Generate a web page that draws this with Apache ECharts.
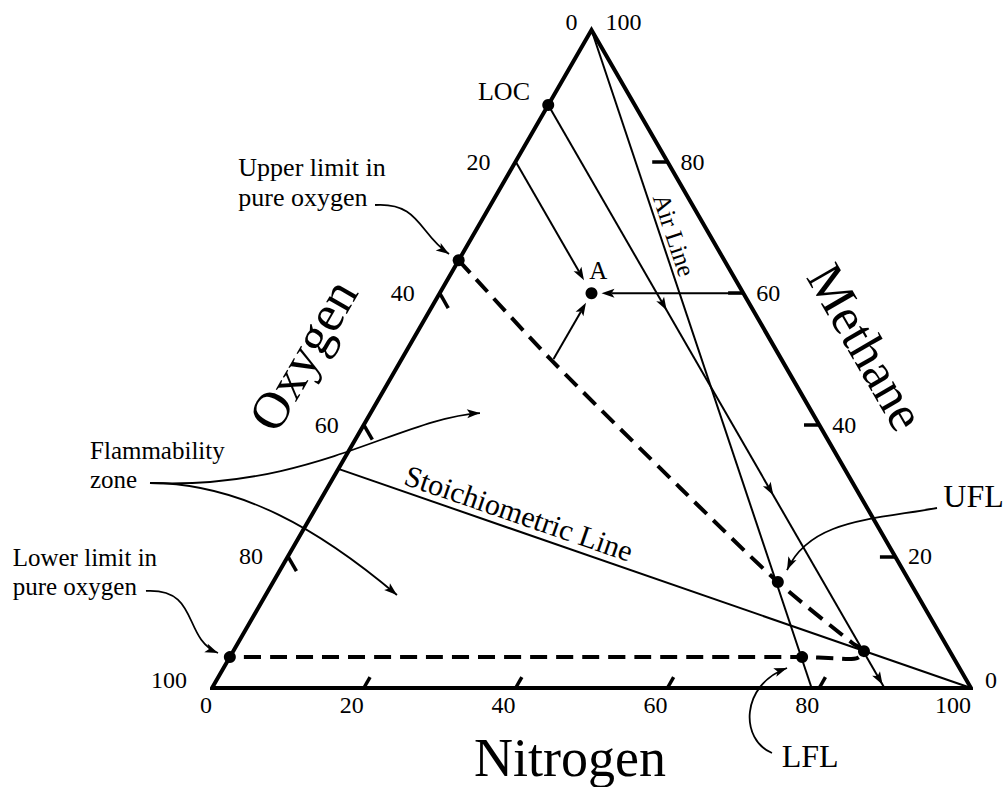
<!DOCTYPE html>
<html>
<head>
<meta charset="utf-8">
<title>Flammability diagram for methane</title>
<script src="https://cdn.jsdelivr.net/npm/echarts@6/dist/echarts.min.js"></script>
<style>
html,body{margin:0;padding:0;background:#fff;}
#chart{width:1005px;height:787px;}
</style>
</head>
<body>
<div id="chart"></div>
<script>
// ===== Data: compositions in % (N2 = nitrogen, CH4 = methane, O2 = 100 - N2 - CH4) =====
const tickValues = [20, 40, 60, 80];          // nitrogen and methane ticks
const oxygenTickValues = [40, 60, 80];        // oxygen ticks
const scaleValues = [0, 20, 40, 60, 80, 100];
const scaleLabels = ['0', '20', '40', '60', '80', '100'];

const locO2 = 11.4;        // limiting oxygen concentration (% O2)
const airN2 = 79;          // air: 79 % N2
const stoichCH4 = 33.3;    // stoichiometric CH4 in pure oxygen (%)

// flammability boundary (dashed)
const boundaryN2  = [0,    19.7, 46.5, 66.5, 81.0, 83.1, 82.8, 81.6, 79.8, 75.4, 0  ];
const boundaryCH4 = [65.0, 49.9, 30.4, 16.1, 6.8,  5.6,  4.6,  4.4,  4.5,  4.7,  4.7];

// dots: LOC, upper limit in O2, A, UFL, nose, LFL, lower limit in O2
const pointN2  = [0,    0,    20, 66.5, 83.1, 75.4, 0  ];
const pointCH4 = [88.6, 65.0, 60, 16.1, 5.6,  4.7,  4.7];

// arrows pointing to A
const pointA = [20, 60];
const arrowFromN2  = [0,  40, 20];
const arrowFromCH4 = [80, 60, 50];

// arrow heads along the LOC line (CH4 %)
const locArrowCH4 = [57.4, 29.3, 0.5];

// ===== geometry helpers =====
const S = Math.sqrt(3) / 2;
const T = (n, c) => [n + c / 2, c * S];     // ternary (N2, CH4) -> cartesian
const FONT = '"Liberation Serif", "Times New Roman", serif';
const BLACK = '#000';
const HEAD = { len: 13, half: 4.5, notch: 3 };
const ARROW_GAPS = [15, 10, 11];

function unit(a, b) {
  const dx = b[0] - a[0], dy = b[1] - a[1];
  const L = Math.hypot(dx, dy) || 1;
  return [dx / L, dy / L];
}
function headPoints(tip, u) {
  const bx = tip[0] - u[0] * HEAD.len, by = tip[1] - u[1] * HEAD.len;
  const px = -u[1], py = u[0];
  return [
    [tip[0], tip[1]],
    [bx + px * HEAD.half, by + py * HEAD.half],
    [tip[0] - u[0] * (HEAD.len - HEAD.notch), tip[1] - u[1] * (HEAD.len - HEAD.notch)],
    [bx - px * HEAD.half, by - py * HEAD.half]
  ];
}

// ===== derived marks =====
const triangle = [T(0, 0), T(100, 0), T(0, 100), T(0, 0), T(100, 0)];

const tickSegs = [];
tickValues.forEach(v => tickSegs.push({ coords: [T(v, 0), T(v, 1.65)] }));                 // nitrogen
tickValues.forEach(v => tickSegs.push({ coords: [T(100 - v, v), T(98 - v, v)] }));         // methane
oxygenTickValues.forEach(v => tickSegs.push({ coords: [T(0, 100 - v), T(2.25, 97.75 - v)] })); // oxygen

const thinLines = [
  { coords: [T(0, 100), T(airN2, 0)] },                 // air line
  { coords: [T(0, 100 - locO2), T(100 - locO2, 0)] },    // LOC line
  { coords: [T(0, stoichCH4), T(100, 0)] }               // stoichiometric line
];

const boundary = boundaryN2.map((n, i) => T(n, boundaryCH4[i]));
const dots = pointN2.map((n, i) => T(n, pointCH4[i]));

const arrowsToA = arrowFromN2.map((n, i) => [...T(n, arrowFromCH4[i]), ...T(pointA[0], pointA[1])]);
const locHeads = locArrowCH4.map(c => [...T(100 - locO2 - c, c), ...T(0, 100 - locO2)]);

// tick labels
const labelItems = [];
scaleValues.forEach((v, i) => {
  const s = scaleLabels[i];
  const end = (v === 0 || v === 100);
  labelItems.push({ text: s, pos: T(v, 0), dx: 0, dy: 17, align: 'right', size: 24 });                    // nitrogen
  labelItems.push({ text: s, pos: T(100 - v, v), dx: end ? 14 : 13, dy: end ? -8 : 0, align: 'left', size: 24 }); // methane
  labelItems.push({ text: s, pos: T(0, 100 - v), dx: v === 0 ? -14 : -25, dy: end ? -8 : 0, align: 'right', size: 24 }); // oxygen
});

// annotation texts (layout positions in plot units)
const notes = [
  { text: 'LOC', pos: [38.47, 78.55], size: 26, align: 'center' },
  { text: 'Upper limit in', pos: [3.47, 68.44], size: 26, align: 'left' },
  { text: 'pure oxygen', pos: [3.47, 64.62], size: 26, align: 'left' },
  { text: 'Flammability', pos: [-16.07, 31.25], size: 25, align: 'left' },
  { text: 'zone', pos: [-16.07, 27.43], size: 25, align: 'left' },
  { text: 'Lower limit in', pos: [-26.26, 17.11], size: 25, align: 'left' },
  { text: 'pure oxygen', pos: [-26.26, 13.39], size: 25, align: 'left' },
  { text: 'UFL', pos: [96.35, 25.30], size: 32, align: 'left' },
  { text: 'LFL', pos: [75.06, -8.92], size: 32, align: 'left' },
  { text: 'A', pos: [50.90, 54.95], size: 25, align: 'center' },
  { text: 'Air Line', pos: [60.87, 59.62], size: 25, align: 'center', rot: -71.5 },
  { text: 'Stoichiometric Line', pos: [40.45, 23.03], size: 30, align: 'center', rot: -19 },
  { text: 'Oxygen', pos: [11.99, 43.83], size: 52, align: 'center', rot: 60 },
  { text: 'Methane', pos: [86.17, 44.88], size: 52, align: 'center', rot: -60 },
  { text: 'Nitrogen', pos: [47.17, -9.25], size: 54, align: 'center' }
];
notes.forEach(n => labelItems.push({ text: n.text, pos: n.pos, dx: 0, dy: 0, align: n.align, size: n.size, rot: n.rot || 0 }));

// curved leader arrows (cubic Bezier, plot units)
const curves = [
  [21.48, 63.57, 27.40, 63.96, 27.27, 59.75, 31.23, 57.12],
  [-8.17, 26.98, 12.91, 26.06, 24.77, 35.54, 35.31, 36.19],
  [-8.17, 26.98, 3.69, 26.98, 14.23, 20.80, 24.37, 12.24],
  [-8.70, 12.77, -1.58, 13.16, -3.95, 6.58, 0.79, 4.61],
  [95.52, 23.69, 86.69, 22.11, 78.79, 22.11, 75.76, 15.53],
  [73.78, -8.55, 69.57, -6.84, 69.57, 0.39, 75.76, 2.63]
];

const chart = echarts.init(document.getElementById('chart'), null, { renderer: 'svg' });

chart.setOption({
  animation: false,
  backgroundColor: '#fff',
  grid: { left: 212, right: 34, top: 30, bottom: 99 },
  xAxis: { type: 'value', min: 0, max: 100, show: false },
  yAxis: { type: 'value', min: 0, max: 100 * S, show: false },
  series: [
    {
      type: 'lines', coordinateSystem: 'cartesian2d', silent: true, z: 2,
      data: thinLines,
      lineStyle: { color: BLACK, width: 2, opacity: 1, curveness: 0 }
    },
    {
      type: 'line', silent: true, z: 3, clip: false, symbol: 'none',
      data: boundary, smooth: 0.25,
      lineStyle: { color: BLACK, width: 4, type: [17, 9] }
    },
    {
      type: 'line', silent: true, z: 4, clip: false, symbol: 'none',
      data: triangle,
      lineStyle: { color: BLACK, width: 4, join: 'miter', miterLimit: 10 }
    },
    {
      type: 'lines', coordinateSystem: 'cartesian2d', silent: true, z: 4,
      data: tickSegs,
      lineStyle: { color: BLACK, width: 3.5, opacity: 1, curveness: 0 }
    },
    {
      type: 'custom', coordinateSystem: 'cartesian2d', silent: true, z: 5,
      data: arrowsToA,
      renderItem(params, api) {
        const p0 = api.coord([api.value(0), api.value(1)]);
        const p1 = api.coord([api.value(2), api.value(3)]);
        const u = unit(p0, p1);
        const gap = ARROW_GAPS[params.dataIndex];
        const tip = [p1[0] - u[0] * gap, p1[1] - u[1] * gap];
        const se = [tip[0] - u[0] * (HEAD.len - HEAD.notch), tip[1] - u[1] * (HEAD.len - HEAD.notch)];
        return {
          type: 'group', children: [
            { type: 'line', shape: { x1: p0[0], y1: p0[1], x2: se[0], y2: se[1] }, style: { stroke: BLACK, lineWidth: 2 } },
            { type: 'polygon', shape: { points: headPoints(tip, u) }, style: { fill: BLACK } }
          ]
        };
      }
    },
    {
      type: 'custom', coordinateSystem: 'cartesian2d', silent: true, z: 5,
      data: locHeads,
      renderItem(params, api) {
        const tip = api.coord([api.value(0), api.value(1)]);
        const from = api.coord([api.value(2), api.value(3)]);
        const u = unit(from, tip);
        return { type: 'polygon', shape: { points: headPoints(tip, u) }, style: { fill: BLACK } };
      }
    },
    {
      type: 'custom', coordinateSystem: 'cartesian2d', silent: true, z: 6,
      data: curves,
      renderItem(params, api) {
        const p = [0, 1, 2, 3].map(k => api.coord([api.value(2 * k), api.value(2 * k + 1)]));
        const u = unit(p[2], p[3]);
        return {
          type: 'group', children: [
            {
              type: 'bezierCurve',
              shape: { x1: p[0][0], y1: p[0][1], cpx1: p[1][0], cpy1: p[1][1], cpx2: p[2][0], cpy2: p[2][1], x2: p[3][0], y2: p[3][1] },
              style: { stroke: BLACK, lineWidth: 1.8, fill: null }
            },
            { type: 'polygon', shape: { points: headPoints(p[3], u) }, style: { fill: BLACK } }
          ]
        };
      }
    },
    {
      type: 'scatter', silent: true, z: 8, clip: false,
      data: dots, symbol: 'circle', symbolSize: 12,
      itemStyle: { color: BLACK, opacity: 1 }
    },
    {
      type: 'custom', coordinateSystem: 'cartesian2d', silent: true, z: 9,
      data: labelItems.map(t => t.pos),
      renderItem(params, api) {
        const t = labelItems[params.dataIndex];
        const p = api.coord([api.value(0), api.value(1)]);
        return {
          type: 'text',
          x: p[0] + t.dx, y: p[1] + t.dy,
          rotation: (t.rot || 0) * Math.PI / 180,
          style: {
            text: t.text, fill: BLACK,
            font: t.size + 'px ' + FONT,
            align: t.align, verticalAlign: 'middle'
          }
        };
      }
    }
  ]
});
</script>
</body>
</html>
